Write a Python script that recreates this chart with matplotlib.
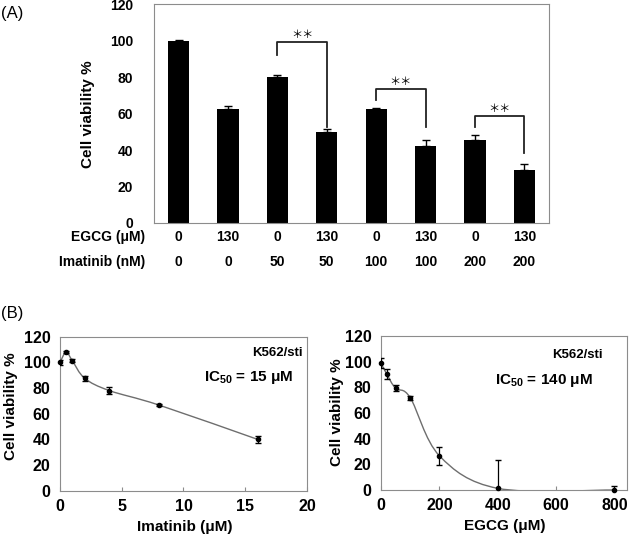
import matplotlib
matplotlib.use("Agg")
import matplotlib.pyplot as plt
from matplotlib.path import Path
from matplotlib.patches import PathPatch

plt.rcParams['font.family'] = ['Liberation Sans', 'DejaVu Sans']
plt.rcParams['font.weight'] = 'bold'
plt.rcParams['axes.labelweight'] = 'bold'
plt.rcParams['mathtext.fontset'] = 'custom'
plt.rcParams['mathtext.rm'] = 'Liberation Sans:bold'
plt.rcParams['mathtext.default'] = 'rm'

# panel A: bar chart
egcg_doses = ['0', '130', '0', '130', '0', '130', '0', '130']
imatinib_doses = ['0', '0', '50', '50', '100', '100', '200', '200']
viability = [100, 62.5, 80.3, 50.0, 62.6, 42.2, 45.6, 29.1]
viability_err = [0.3, 2.0, 0.8, 1.5, 0.4, 3.3, 2.6, 3.2]
# significance brackets: (left bar, right bar, top, left leg end, right leg end)
brackets = [(2, 3, 99.4, 92.3, 52.7),
            (4, 5, 73.6, 67.6, 52.7),
            (6, 7, 58.8, 52.7, 38.5)]

# panel B left: imatinib dose response
imatinib_um = [0, 0.5, 1, 2, 4, 8, 16]
imatinib_via = [100, 108, 101.3, 87.6, 78, 66.8, 40]
imatinib_err = [2, 1, 1, 2, 3, 0.5, 2.5]

# panel B right: EGCG dose response
egcg_um = [0, 20, 50, 100, 200, 400, 800]
egcg_via = [98.7, 90.2, 79.3, 72, 26.7, 1.3, 0]
egcg_err = [4, 4, 2.5, 1.5, 7, 22, 3]

FRAME = '#8c8c8c'


def smooth_path(xs, ys, t=1 / 6.0):
    # excel-like smoothed line (catmull-rom as bezier segments)
    pts = list(zip(xs, ys))
    verts = [pts[0]]
    codes = [Path.MOVETO]
    for i in range(len(pts) - 1):
        p0 = pts[i - 1] if i > 0 else pts[i]
        p1 = pts[i]
        p2 = pts[i + 1]
        p3 = pts[i + 2] if i + 2 < len(pts) else p2
        c1 = (p1[0] + (p2[0] - p0[0]) * t, p1[1] + (p2[1] - p0[1]) * t)
        c2 = (p2[0] - (p3[0] - p1[0]) * t, p2[1] - (p3[1] - p1[1]) * t)
        verts += [c1, c2, p2]
        codes += [Path.CURVE4] * 3
    return Path(verts, codes)


fig = plt.figure(figsize=(6.3, 5.39), dpi=100)

# ---------------- (A)
axA = fig.add_axes([0.2444, 0.5863, 0.627, 0.4054])
pos = list(range(len(viability)))
axA.bar(pos, viability, width=0.43, color='black', zorder=2)
axA.errorbar(pos, viability, yerr=[[0] * len(viability), viability_err],
             fmt='none', ecolor='black', elinewidth=1, capsize=3, zorder=3)
axA.set_xlim(-0.5, 7.5)
axA.set_ylim(0, 120)
axA.set_yticks(range(0, 121, 20))
axA.set_xticks([])
axA.tick_params(axis='y', length=0, pad=15, labelsize=10)
for s in axA.spines.values():
    s.set_color(FRAME)
axA.set_ylabel('Cell viability %', fontsize=11)
axA.yaxis.set_label_coords(-0.149, 0.5)

for l, r, top, yl, yr in brackets:
    axA.plot([l, l, r, r], [yl, top, top, yr], color='#222222', lw=1.3,
             zorder=4)
    axA.text((l + r) / 2, top + 3.8, '＊＊', family=['Noto Sans CJK JP'],
             fontweight='normal', fontsize=8, ha='center', va='center')

trA = axA.get_xaxis_transform()
for i in pos:
    axA.text(i, -0.064, egcg_doses[i], transform=trA, ha='center',
             va='center', fontsize=10)
    axA.text(i, -0.178, imatinib_doses[i], transform=trA, ha='center',
             va='center', fontsize=10)
axA.text(-0.023, -0.064, 'EGCG (μM)', transform=axA.transAxes, ha='right',
         va='center', fontsize=10)
axA.text(-0.023, -0.178, 'Imatinib (nM)', transform=axA.transAxes,
         ha='right', va='center', fontsize=10)
fig.text(0.002, 0.975, '(A)', fontsize=12, fontweight='normal',
         ha='left', va='center')

# ---------------- (B)
fig.text(0.002, 0.419, '(B)', fontsize=12, fontweight='normal',
         ha='left', va='center')


def dose_panel(rect, xs, ys, errs, xlim, xticks, xlabel, ic50, coords):
    ax = fig.add_axes(rect)
    ax.add_patch(PathPatch(smooth_path(xs, ys), facecolor='none',
                           edgecolor='#6e6e6e', lw=1, zorder=2))
    ax.errorbar(xs, ys, yerr=errs, fmt='none', ecolor='black',
                elinewidth=0.9, capsize=2.5, zorder=3)
    ax.plot(xs, ys, 'o', color='black', ms=3, clip_on=False, zorder=4)
    ax.set_xlim(*xlim)
    ax.set_ylim(0, 120)
    ax.set_xticks(xticks)
    ax.set_yticks(range(0, 121, 20))
    ax.tick_params(axis='x', direction='in', length=3, color=FRAME, pad=6,
                   labelsize=11.5)
    ax.tick_params(axis='y', length=0, pad=7, labelsize=11.5)
    for s in ax.spines.values():
        s.set_color(FRAME)
    ax.set_ylabel('Cell viability %', fontsize=11)
    ax.yaxis.set_label_coords(*coords[0])
    ax.set_xlabel(xlabel, fontsize=11)
    ax.xaxis.set_label_coords(*coords[1])
    ax.text(coords[2][0], coords[2][1], 'K562/sti', transform=ax.transAxes,
            ha='right', va='center', fontsize=9.5)
    ax.text(coords[3][0], coords[3][1], ic50, transform=ax.transAxes,
            ha='right', va='center', fontsize=11)
    return ax


dose_panel([0.0952, 0.0896, 0.3921, 0.2857], imatinib_um, imatinib_via,
           imatinib_err, (0, 20), range(0, 21, 5), 'Imatinib (μM)',
           r'IC$_{50}$ = 15 μM',
           [(-0.17, 0.55), (0.506, -0.19), (0.984, 0.894), (0.943, 0.738)])
dose_panel([0.6048, 0.0909, 0.3904, 0.2857], egcg_um, egcg_via, egcg_err,
           (0, 843), range(0, 801, 200), 'EGCG (μM)',
           r'IC$_{50}$ = 140 μM',
           [(-0.15, 0.508), (0.504, -0.19), (0.902, 0.877), (0.862, 0.714)])

fig.savefig('out.png', dpi=100)
